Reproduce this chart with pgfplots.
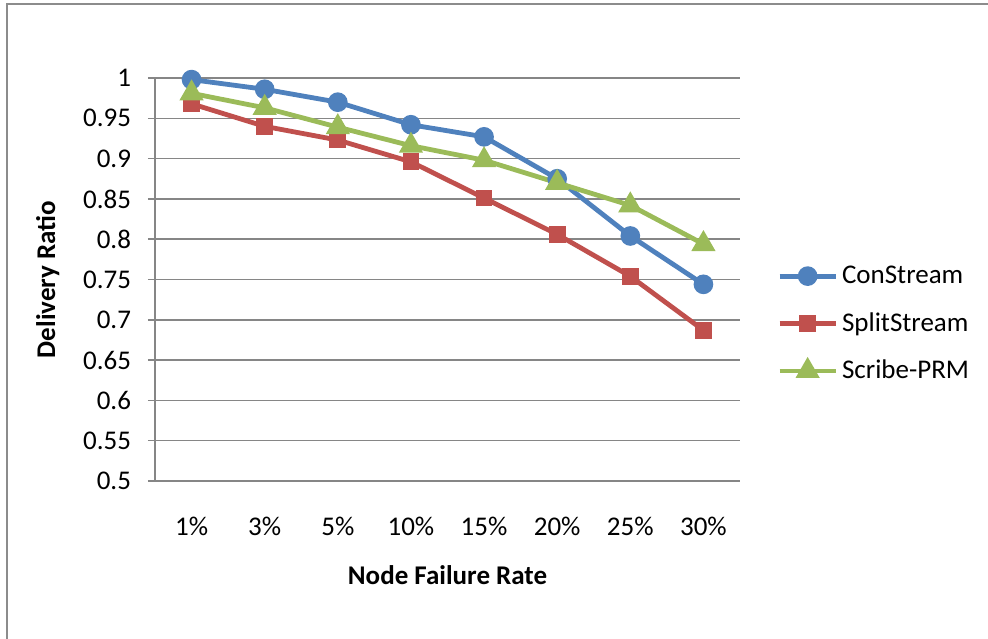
\documentclass[border=0pt]{standalone}
\usepackage{pgfplots}
\pgfplotsset{compat=1.18}
\usepackage{fontspec}
\setmainfont{Carlito}

\definecolor{cblue}{HTML}{4F81BD}
\definecolor{cred}{HTML}{C0504D}
\definecolor{cgreen}{HTML}{9BBB59}
\definecolor{gridgray}{HTML}{868686}
\definecolor{framegray}{HTML}{8C8C8C}

\newcommand{\chartfont}{\fontsize{13.5bp}{16bp}\selectfont}

\pgfplotstableread{
x  con    split  scribe
0  0.998  0.968  0.981
1  0.986  0.940  0.963
2  0.970  0.923  0.939
3  0.942  0.896  0.916
4  0.927  0.851  0.898
5  0.875  0.806  0.870
6  0.804  0.754  0.842
7  0.744  0.687  0.794
}\ratios

\begin{document}
\begin{tikzpicture}
% fixed page area around the plot
\useasboundingbox (-77.5bp,-79bp) rectangle (416.5bp,240.5bp);
% chart frame (left and top edges fall inside the page)
\draw[framegray, line width=1bp] (-74bp,-90bp) -- (-74bp,238.5bp) -- (430bp,238.5bp);
\begin{axis}[
  at={(0,0)}, anchor=south west,
  scale only axis,
  width=292.5bp, height=201.5bp,
  xmin=-0.5, xmax=7.5, ymin=0.5, ymax=1,
  axis x line*=bottom, axis y line*=left,
  axis line style={gridgray, line width=0.75bp, -},
  xtick={0,...,7},
  xticklabels={1\%,3\%,5\%,10\%,15\%,20\%,25\%,30\%},
  ytick={0.5,0.55,0.6,0.65,0.7,0.75,0.8,0.85,0.9,0.95,1},
  yticklabels={0.5,0.55,0.6,0.65,0.7,0.75,0.8,0.85,0.9,0.95,1},
  tick align=outside,
  major tick length=3.5bp,
  xtick style={draw=none},
  ytick style={gridgray, line width=0.75bp},
  ymajorgrids,
  grid style={gridgray, line width=0.75bp},
  ticklabel style={font=\chartfont},
  yticklabel style={xshift=-5bp},
  xticklabel style={yshift=-11bp},
  xlabel={\bfseries Node Failure Rate},
  ylabel={\bfseries Delivery Ratio},
  label style={font=\chartfont},
  xlabel style={yshift=-8bp},
  ylabel style={yshift=5bp},
  legend style={draw=none, fill=none, at={(1.063,0.39)}, anchor=west,
    font=\chartfont, row sep=9bp, inner sep=0pt},
  legend cell align=left,
  legend image code/.code={%
    \draw[mark repeat=2, mark phase=2] plot coordinates {(0bp,0bp) (14bp,0bp) (28bp,0bp)};},
  every axis plot/.append style={line width=2.4bp},
]
\addplot[cblue, mark=*, mark size=3.7bp, mark options={solid}] table[x=x, y=con] {\ratios};
\addlegendentry{ConStream}
\addplot[cred, mark=square*, mark size=3bp] table[x=x, y=split] {\ratios};
\addlegendentry{SplitStream}
\addplot[cgreen, mark=triangle*, mark size=4.6bp] table[x=x, y=scribe] {\ratios};
\addlegendentry{Scribe-PRM}
\end{axis}
\end{tikzpicture}
\end{document}
